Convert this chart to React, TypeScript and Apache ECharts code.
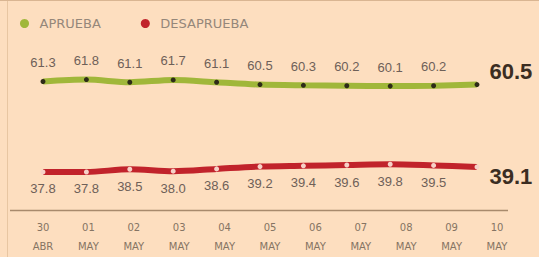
import React, { useEffect, useRef } from "react";
import * as echarts from "echarts";

const categories = ["30\nABR", "01\nMAY", "02\nMAY", "03\nMAY", "04\nMAY", "05\nMAY", "06\nMAY", "07\nMAY", "08\nMAY", "09\nMAY", "10\nMAY"];
const aprueba = [61.3, 61.8, 61.1, 61.7, 61.1, 60.5, 60.3, 60.2, 60.1, 60.2, 60.5];
const desaprueba = [37.8, 37.8, 38.5, 38.0, 38.6, 39.2, 39.4, 39.6, 39.8, 39.5, 39.1];
const seriesNames = ["APRUEBA", "DESAPRUEBA"];

const GREEN = "#a0b73a";
const RED = "#c1232b";

function withLast(values: number[], lastLabel: any) {
  return values.map((v, i) =>
    i === values.length - 1 ? { value: v, label: lastLabel } : { value: v }
  );
}

export default function App() {
  const ref = useRef<HTMLDivElement>(null);
  useEffect(() => {
    document.body.style.margin = "0";
    const chart = echarts.init(ref.current!, null, { renderer: "svg" });
    const fmt = (p: any) => Number(p.value).toFixed(1);
    const lastBase = {
      show: true,
      position: "right",
      distance: 10,
      fontSize: 22,
      fontWeight: "bold",
      color: "#3b2d22",
      fontFamily: "Liberation Sans",
    };
    chart.setOption({
      animation: false,
      backgroundColor: "#fddebf",
      legend: {
        left: 15,
        top: 12,
        icon: "circle",
        itemWidth: 20,
        itemHeight: 9,
        itemGap: 40,
        textStyle: { fontSize: 13, color: "#95877a", fontFamily: "DejaVu Sans" },
        data: [
          { name: seriesNames[0], itemStyle: { color: GREEN } },
          { name: seriesNames[1], itemStyle: { color: RED } },
        ],
      },
      grid: [
        { left: 43, right: 62, top: 48, height: 154 },
        { left: 43, right: 42, top: 48, bottom: 47 },
      ],
      xAxis: [
        {
          type: "category",
          gridIndex: 0,
          data: categories,
          boundaryGap: false,
          show: false,
        },
        {
          type: "category",
          gridIndex: 1,
          data: categories,
          boundaryGap: false,
          axisLine: { show: false },
          axisTick: { show: false },
          axisLabel: {
            margin: 8,
            fontSize: 10,
            lineHeight: 19,
            color: "#857463",
            fontFamily: "DejaVu Sans",
            interval: 0,
          },
        },
      ],
      yAxis: [
        { type: "value", gridIndex: 0, min: 30, max: 70, show: false },
        { type: "value", gridIndex: 1, show: false },
      ],
      graphic: [
        { type: "line", shape: { x1: 10, y1: 210.5, x2: 508, y2: 210.5 }, style: { stroke: "#a88a6c", lineWidth: 1.5 } },
        { type: "line", shape: { x1: 7.5, y1: 0, x2: 7.5, y2: 257 }, style: { stroke: "#e8c6a2", lineWidth: 1 } },
        { type: "line", shape: { x1: 0, y1: 0.5, x2: 539, y2: 0.5 }, style: { stroke: "#d9b592", lineWidth: 1 } },
      ],
      series: [
        {
          name: seriesNames[0],
          type: "line",
          xAxisIndex: 0,
          yAxisIndex: 0,
          smooth: 0.3,
          symbol: "circle",
          symbolSize: 5,
          itemStyle: { color: "#2e2b18" },
          lineStyle: { color: GREEN, width: 6 },
          label: {
            show: true,
            position: "top",
            distance: 10,
            fontSize: 13,
            color: "#6e6058",
            fontFamily: "Liberation Sans",
            formatter: fmt,
          },
          data: withLast(aprueba, { ...lastBase, offset: [0, -13] }),
        },
        {
          name: seriesNames[1],
          type: "line",
          xAxisIndex: 0,
          yAxisIndex: 0,
          smooth: 0.3,
          symbol: "circle",
          symbolSize: 5,
          itemStyle: { color: "#f6d2c8" },
          lineStyle: { color: RED, width: 6 },
          label: {
            show: true,
            position: "bottom",
            distance: 8,
            fontSize: 13,
            color: "#6e6058",
            fontFamily: "Liberation Sans",
            formatter: fmt,
          },
          data: withLast(desaprueba, { ...lastBase, offset: [0, 10] }),
        },
      ],
    });
    return () => chart.dispose();
  }, []);
  return (
    <div
      ref={ref}
      style={{ position: "fixed", left: 0, top: 0, width: 539, height: 257 }}
    />
  );
}
